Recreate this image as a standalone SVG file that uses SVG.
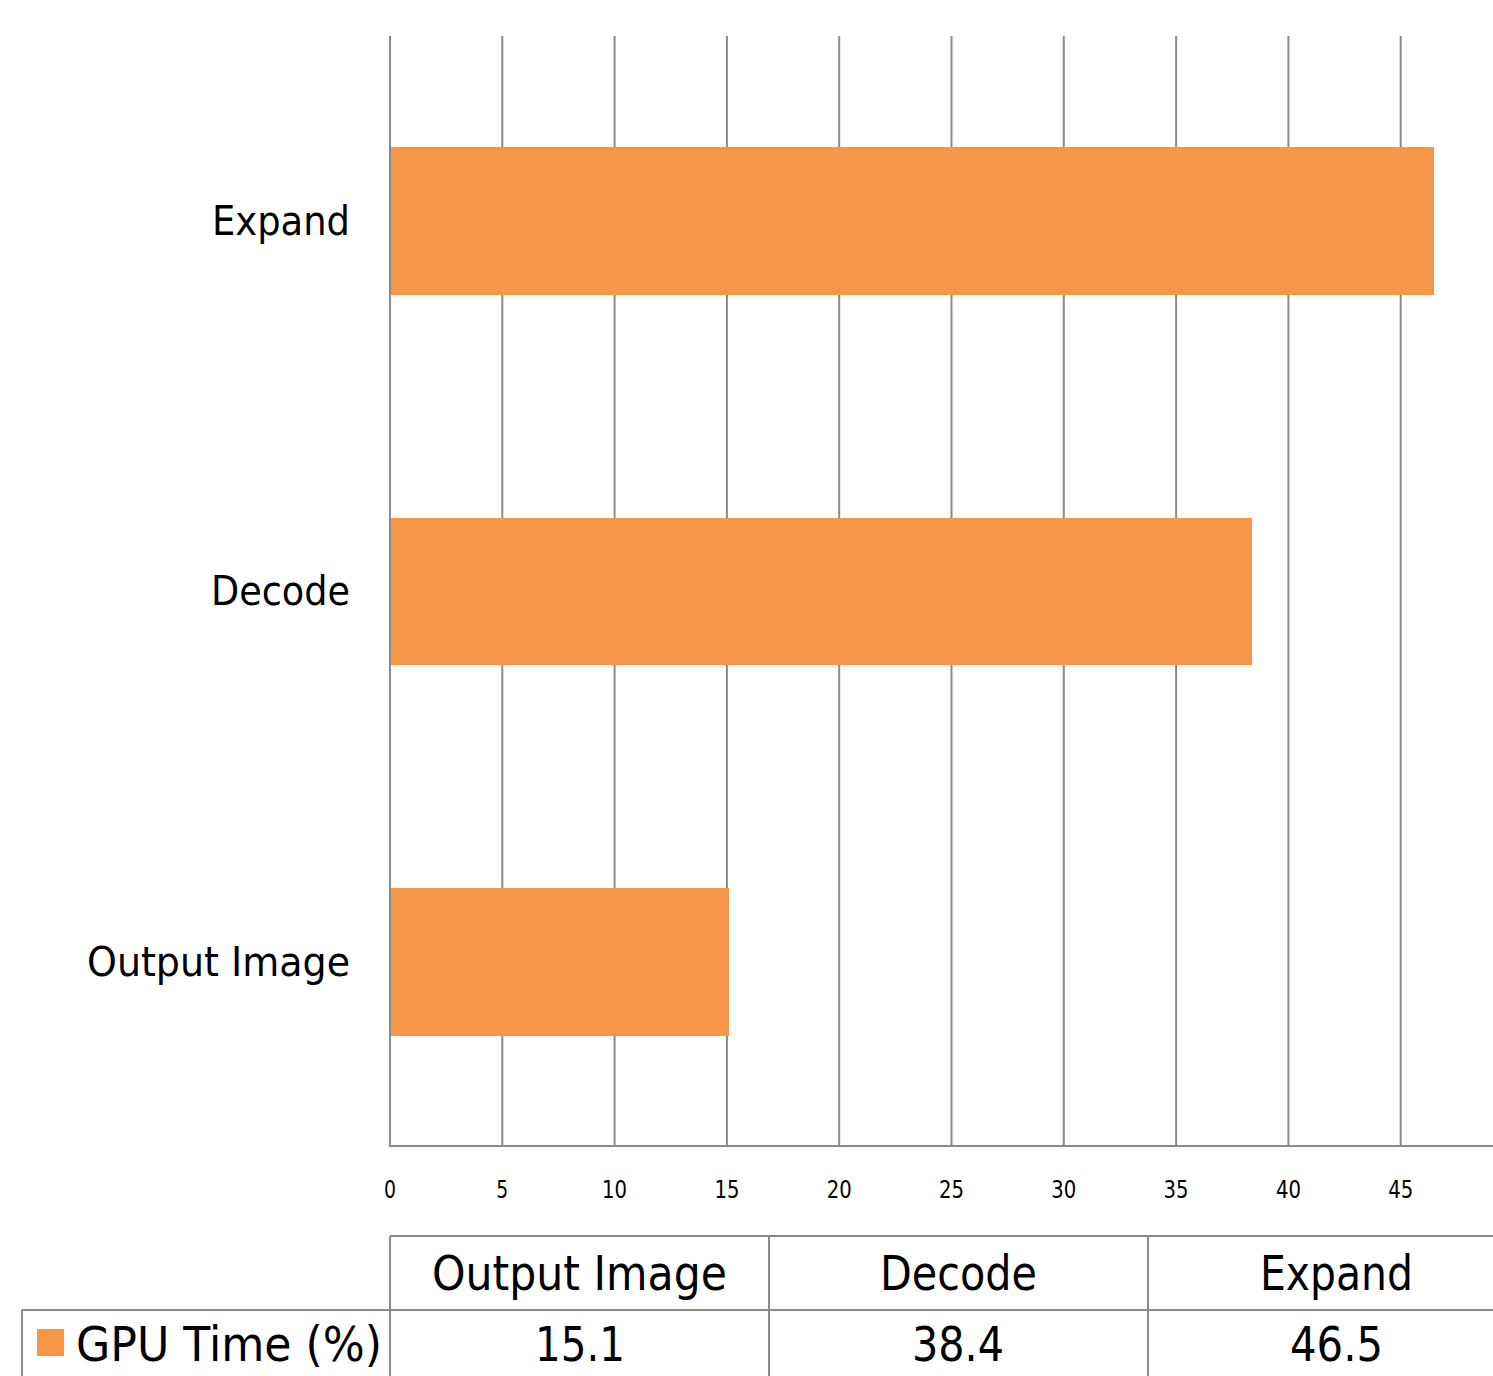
<svg xmlns="http://www.w3.org/2000/svg" width="1493" height="1376" viewBox="0 0 1493 1376">
<style>
.grid{stroke:#8a8a8a;stroke-width:2;fill:none}
.tbl{stroke:#8a8a8a;stroke-width:2;fill:none}
.bar{fill:#F79646}
text{font-family:"DejaVu Sans","Liberation Sans",sans-serif;fill:#000}
.cat{font-size:41px;text-anchor:end}
.tick{font-size:24px;text-anchor:middle}
.tb{font-size:48px;text-anchor:middle}
</style>
<rect width="1493" height="1376" fill="#fff"/>
<g id="gridlines">
<line class="grid" x1="390" y1="36" x2="390" y2="1146"/>
<line class="grid" x1="502.3" y1="36" x2="502.3" y2="1146"/>
<line class="grid" x1="614.6" y1="36" x2="614.6" y2="1146"/>
<line class="grid" x1="726.9" y1="36" x2="726.9" y2="1146"/>
<line class="grid" x1="839.2" y1="36" x2="839.2" y2="1146"/>
<line class="grid" x1="951.5" y1="36" x2="951.5" y2="1146"/>
<line class="grid" x1="1063.8" y1="36" x2="1063.8" y2="1146"/>
<line class="grid" x1="1176.1" y1="36" x2="1176.1" y2="1146"/>
<line class="grid" x1="1288.4" y1="36" x2="1288.4" y2="1146"/>
<line class="grid" x1="1400.7" y1="36" x2="1400.7" y2="1146"/>
<line class="grid" x1="389" y1="1146" x2="1493" y2="1146"/>
</g>
<g id="bars">
<rect id="bar-expand" class="bar" x="391" y="147" width="1043" height="148"/>
<rect id="bar-decode" class="bar" x="391" y="518" width="861" height="147"/>
<rect id="bar-output" class="bar" x="391" y="888" width="338" height="148"/>
</g>
<g id="category-labels">
<text class="cat" x="350" y="235" textLength="138" lengthAdjust="spacingAndGlyphs">Expand</text>
<text class="cat" x="350" y="605" textLength="139" lengthAdjust="spacingAndGlyphs">Decode</text>
<text class="cat" x="350" y="976" textLength="263" lengthAdjust="spacingAndGlyphs">Output Image</text>
</g>
<g id="ticks">
<text class="tick" x="390" y="1198" textLength="12" lengthAdjust="spacingAndGlyphs">0</text>
<text class="tick" x="502.3" y="1198" textLength="12" lengthAdjust="spacingAndGlyphs">5</text>
<text class="tick" x="614.6" y="1198" textLength="25" lengthAdjust="spacingAndGlyphs">10</text>
<text class="tick" x="726.9" y="1198" textLength="25" lengthAdjust="spacingAndGlyphs">15</text>
<text class="tick" x="839.2" y="1198" textLength="25" lengthAdjust="spacingAndGlyphs">20</text>
<text class="tick" x="951.5" y="1198" textLength="25" lengthAdjust="spacingAndGlyphs">25</text>
<text class="tick" x="1063.8" y="1198" textLength="25" lengthAdjust="spacingAndGlyphs">30</text>
<text class="tick" x="1176.1" y="1198" textLength="25" lengthAdjust="spacingAndGlyphs">35</text>
<text class="tick" x="1288.4" y="1198" textLength="25" lengthAdjust="spacingAndGlyphs">40</text>
<text class="tick" x="1400.7" y="1198" textLength="25" lengthAdjust="spacingAndGlyphs">45</text>
</g>
<g id="data-table">
<line class="tbl" x1="390" y1="1236" x2="1493" y2="1236"/>
<line class="tbl" x1="22" y1="1310" x2="1493" y2="1310"/>
<line class="tbl" x1="390" y1="1236" x2="390" y2="1376"/>
<line class="tbl" x1="769" y1="1236" x2="769" y2="1376"/>
<line class="tbl" x1="1148" y1="1236" x2="1148" y2="1376"/>
<line class="tbl" x1="22" y1="1310" x2="22" y2="1376"/>
<text class="tb" x="579.5" y="1290" textLength="295" lengthAdjust="spacingAndGlyphs">Output Image</text>
<text class="tb" x="958.5" y="1290" textLength="157" lengthAdjust="spacingAndGlyphs">Decode</text>
<text class="tb" x="1336.5" y="1290" textLength="153" lengthAdjust="spacingAndGlyphs">Expand</text>
<rect class="bar" x="37" y="1329" width="27" height="27"/>
<text x="76" y="1361" style="font-size:48px" textLength="306" lengthAdjust="spacingAndGlyphs">GPU Time (%)</text>
<text class="tb" x="580" y="1361" textLength="90" lengthAdjust="spacingAndGlyphs">15.1</text>
<text class="tb" x="958" y="1361" textLength="92" lengthAdjust="spacingAndGlyphs">38.4</text>
<text class="tb" x="1336.5" y="1361" textLength="93" lengthAdjust="spacingAndGlyphs">46.5</text>
</g>
</svg>
